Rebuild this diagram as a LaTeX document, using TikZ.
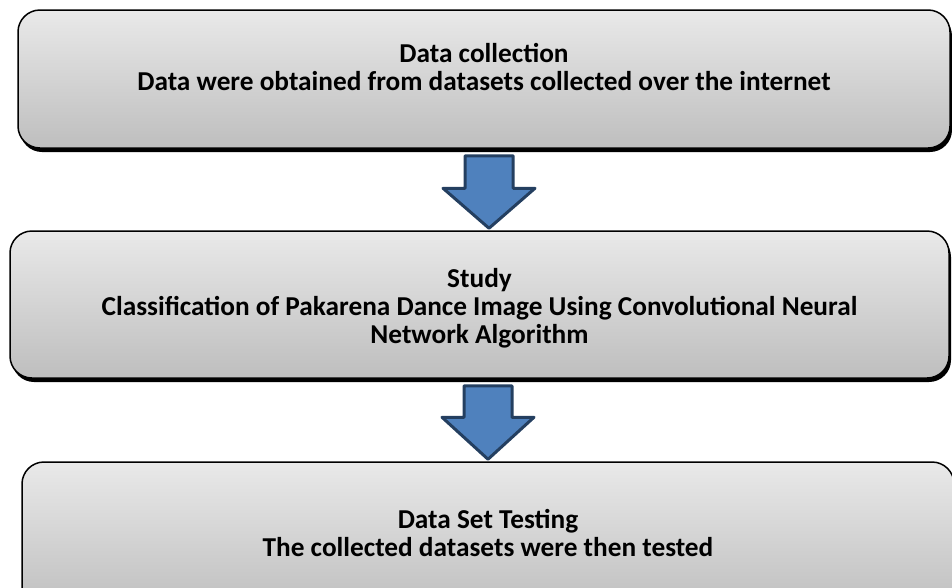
\documentclass[tikz,border=0pt]{standalone}
\usepackage{fontspec}
\setmainfont{Carlito}
\usetikzlibrary{calc,shadows}
\definecolor{boxtop}{HTML}{E9E9E9}
\definecolor{boxbottom}{HTML}{BEBEBE}
\definecolor{arrowfill}{HTML}{4F81BD}
\definecolor{arrowline}{HTML}{243F60}
\begin{document}
\begin{tikzpicture}[x=1pt,y=-1pt]
        \tikzstyle{stage}=[rectangle,rounded corners=22pt,draw=black,line width=1.5pt,top color=boxtop,bottom color=boxbottom,drop shadow={shadow xshift=2pt,shadow yshift=-4pt,fill=black,opacity=1}]
        \tikzstyle{caption}=[align=center,font=\fontsize{27.3}{28}\selectfont\bfseries]
        \tikzstyle{blockarrow}=[draw=arrowline,fill=arrowfill,line width=3pt,line join=round]
        \useasboundingbox (0,0) rectangle (952,587);
        \begin{scope}
            \node [stage,minimum width=932pt,minimum height=138pt] (collect) at (484,79) {};
            \node [stage,minimum width=939pt,minimum height=147pt] (study) at (479.5,304.5) {};
            \node [stage,minimum width=932pt,minimum height=150pt] (testing) at (488,537) {};
            \node [caption] (collecttext) at (484,66.5) {Data collection\\Data were obtained from datasets collected over the internet};
            \node [caption] (studytext) at (479.5,308) {Study\\Classification of Pakarena Dance Image Using Convolutional Neural\\Network Algorithm};
            \node [caption] (testingtext) at (488,533) {Data Set Testing\\The collected datasets were then tested};
            % block arrows between the stages
            \coordinate (top1) at ($(collect.south)+(5,7)$);
            \coordinate (tip1) at ($(study.north)+(9.5,-2)$);
            \coordinate (top2) at ($(study.south)+(8.5,7)$);
            \coordinate (tip2) at ($(testing.north)+(0,-2)$);
            \draw[blockarrow] ($(top1)+(-24,0)$) -- ($(top1)+(24,0)$) -- ($(tip1)+(24,-40)$) -- ($(tip1)+(46,-40)$) -- (tip1) -- ($(tip1)+(-46,-40)$) -- ($(tip1)+(-24,-40)$) -- cycle;
            \draw[blockarrow] ($(top2)+(-24,0)$) -- ($(top2)+(24,0)$) -- ($(tip2)+(24,-42)$) -- ($(tip2)+(46,-42)$) -- (tip2) -- ($(tip2)+(-46,-42)$) -- ($(tip2)+(-24,-42)$) -- cycle;
        \end{scope}
\end{tikzpicture}
\end{document}
